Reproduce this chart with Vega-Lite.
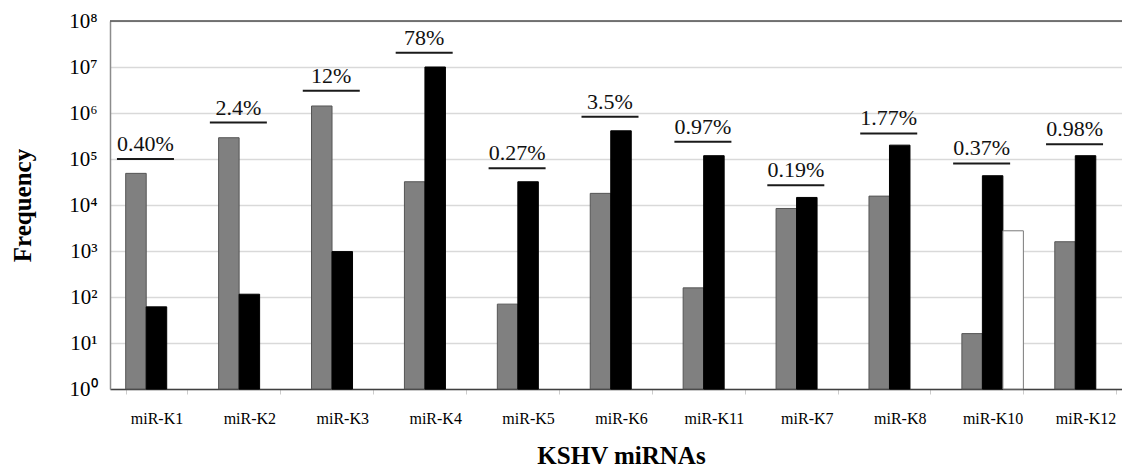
{
  "$schema": "https://vega.github.io/schema/vega-lite/v6.json",
  "width": 1012,
  "height": 368,
  "autosize": "none",
  "padding": {"left": 110, "top": 21, "right": 0, "bottom": 78},
  "background": "white",
  "config": {"view": {"stroke": null}, "font": "Liberation Serif", "text": {"font": "Liberation Serif"}},
  "datasets": {
    "bars": [
      {"mirna": "miR-K1", "series": "gray", "freq": 48700},
      {"mirna": "miR-K1", "series": "black", "freq": 61},
      {"mirna": "miR-K2", "series": "gray", "freq": 290000},
      {"mirna": "miR-K2", "series": "black", "freq": 115},
      {"mirna": "miR-K3", "series": "gray", "freq": 1420000},
      {"mirna": "miR-K3", "series": "black", "freq": 970},
      {"mirna": "miR-K4", "series": "gray", "freq": 32000},
      {"mirna": "miR-K4", "series": "black", "freq": 10000000},
      {"mirna": "miR-K5", "series": "gray", "freq": 70},
      {"mirna": "miR-K5", "series": "black", "freq": 32000},
      {"mirna": "miR-K6", "series": "gray", "freq": 17900},
      {"mirna": "miR-K6", "series": "black", "freq": 410000},
      {"mirna": "miR-K11", "series": "gray", "freq": 158},
      {"mirna": "miR-K11", "series": "black", "freq": 118000},
      {"mirna": "miR-K7", "series": "gray", "freq": 8400},
      {"mirna": "miR-K7", "series": "black", "freq": 14600},
      {"mirna": "miR-K8", "series": "gray", "freq": 15600},
      {"mirna": "miR-K8", "series": "black", "freq": 200000},
      {"mirna": "miR-K10", "series": "gray", "freq": 16},
      {"mirna": "miR-K10", "series": "black", "freq": 43300},
      {"mirna": "miR-K10", "series": "white", "freq": 2750},
      {"mirna": "miR-K12", "series": "gray", "freq": 1590},
      {"mirna": "miR-K12", "series": "black", "freq": 118000}
    ],
    "labels": [
      {"mirna": "miR-K1", "pct": "0.40%", "line": 100000},
      {"mirna": "miR-K2", "pct": "2.4%", "line": 620000},
      {"mirna": "miR-K3", "pct": "12%", "line": 3050000},
      {"mirna": "miR-K4", "pct": "78%", "line": 20500000},
      {"mirna": "miR-K5", "pct": "0.27%", "line": 63000},
      {"mirna": "miR-K6", "pct": "3.5%", "line": 830000},
      {"mirna": "miR-K11", "pct": "0.97%", "line": 237000},
      {"mirna": "miR-K7", "pct": "0.19%", "line": 27000},
      {"mirna": "miR-K8", "pct": "1.77%", "line": 360000},
      {"mirna": "miR-K10", "pct": "0.37%", "line": 80000},
      {"mirna": "miR-K12", "pct": "0.98%", "line": 210000}
    ]
  },
  "layer": [
    {
      "data": {"name": "bars"},
      "mark": {"type": "bar", "strokeWidth": 1},
      "encoding": {
        "x": {
          "field": "mirna",
          "type": "nominal",
          "sort": ["miR-K1", "miR-K2", "miR-K3", "miR-K4", "miR-K5", "miR-K6", "miR-K11", "miR-K7", "miR-K8", "miR-K10", "miR-K12"],
          "scale": {"range": [0, 1022], "paddingInner": 0.338, "paddingOuter": 0.169},
          "axis": {
            "title": "KSHV miRNAs",
            "titleFontSize": 25,
            "titleFontWeight": "bold",
            "titlePadding": 17,
            "titleColor": "black",
            "titleFont": "Liberation Serif",
            "labelFont": "Liberation Serif",
            "labelFontSize": 16,
            "labelAngle": 0,
            "labelPadding": 16,
            "labelColor": "black",
            "tickSize": 5,
            "tickBand": "extent",
            "tickColor": "#cccccc",
            "domainColor": "#404040",
            "domainWidth": 1.5
          }
        },
        "xOffset": {"field": "series", "type": "nominal", "scale": {"domain": ["gray", "black", "white"]}},
        "y": {
          "field": "freq",
          "type": "quantitative",
          "stack": null,
          "scale": {"type": "log", "domain": [1, 100000000], "nice": false},
          "axis": {
            "title": "Frequency",
            "values": [1, 10, 100, 1000, 10000, 100000, 1000000, 10000000, 100000000],
            "labelExpr": "'10' + ['⁰','¹','²','³','⁴','⁵','⁶','⁷','⁸'][round(log(datum.value)/LN10)]",
            "labelFont": "Liberation Serif, Times New Roman, serif",
            "labelFontSize": 21,
            "labelPadding": 13,
            "labelColor": "black",
            "ticks": false,
            "grid": true,
            "gridColor": "#d9d9d9",
            "gridWidth": 1.5,
            "domainColor": "#8c8c8c",
            "domainWidth": 1.5,
            "titleFont": "Liberation Serif",
            "titleFontSize": 25,
            "titleFontWeight": "bold",
            "titleColor": "black",
            "titlePadding": 33
          }
        },
        "y2": {"datum": 1},
        "fill": {"field": "series", "type": "nominal", "scale": {"domain": ["gray", "black", "white"], "range": ["#808080", "#000000", "#ffffff"]}, "legend": null},
        "stroke": {"field": "series", "type": "nominal", "scale": {"domain": ["gray", "black", "white"], "range": ["#555555", "#000000", "#7a7a7a"]}, "legend": null}
      }
    },
    {
      "data": {"values": [{}]},
      "mark": {"type": "rule", "color": "#4d4d4d", "strokeWidth": 1.5},
      "encoding": {"y": {"datum": 100000000}}
    },
    {
      "data": {"name": "labels"},
      "mark": {"type": "tick", "size": 57, "thickness": 2, "color": "#1a1a1a", "opacity": 1, "xOffset": -11},
      "encoding": {
        "x": {"field": "mirna", "type": "nominal", "sort": ["miR-K1", "miR-K2", "miR-K3", "miR-K4", "miR-K5", "miR-K6", "miR-K11", "miR-K7", "miR-K8", "miR-K10", "miR-K12"]},
        "y": {"field": "line", "type": "quantitative"}
      }
    },
    {
      "data": {"name": "labels"},
      "mark": {"type": "text", "fontSize": 22, "dy": -8, "baseline": "alphabetic", "xOffset": -11, "color": "#111111", "font": "Liberation Serif, Times New Roman, serif"},
      "encoding": {
        "x": {"field": "mirna", "type": "nominal", "sort": ["miR-K1", "miR-K2", "miR-K3", "miR-K4", "miR-K5", "miR-K6", "miR-K11", "miR-K7", "miR-K8", "miR-K10", "miR-K12"]},
        "y": {"field": "line", "type": "quantitative"},
        "text": {"field": "pct"}
      }
    }
  ]
}
